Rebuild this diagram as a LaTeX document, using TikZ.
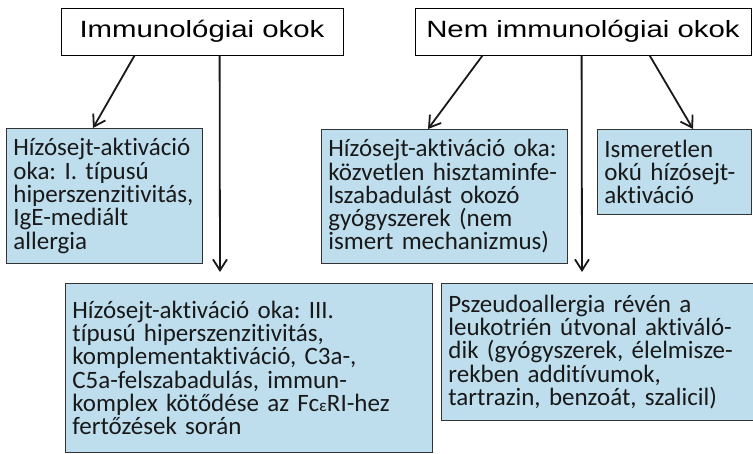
\documentclass[tikz,border=0pt]{standalone}
\usepackage{fontspec}
\setmainfont{Carlito}[Ligatures = NoCommon, WordSpace = 0.75]
\newfontfamily\titlefont{Liberation Sans}[FakeStretch = 1.25]
\usetikzlibrary{arrows.meta}
\definecolor{boxblue}{RGB}{190,222,238}
\frenchspacing

\begin{document}
\begin{tikzpicture}[x = 1pt, y = -1pt, > = {Straight Barb[length = 11pt, width = 14pt]},
	head/.style = {draw, line width = 0.8pt, minimum height = 47pt, inner sep = 0pt, font = \titlefont\fontsize{23.5}{28}\selectfont},
	cause/.style = {draw = black!80, fill = boxblue, line width = 0.8pt, anchor = north west, align = left, inner xsep = 7pt, inner ysep = 0pt, text = black!90, font = \fontsize{25}{23.3}\selectfont},
	link/.style = {->, line width = 1.8pt, draw = black!90}]

\useasboundingbox (0, 0) rectangle (753, 453);

% Headings

\node [head, minimum width = 282pt] (immun) at (202, 31.5) {Immunológiai okok};
\node [head, minimum width = 336pt] (nonimmun) at (583, 31.5) {Nem immunológiai okok};

% Causes

\node [cause, text width = 182pt, minimum height = 135pt] (typeone) at (6, 128) {Hízósejt-aktiváció\\oka: I. típusú\\hiperszenzitivitás,\\IgE-mediált\\allergia};
\node [cause, text width = 353pt, minimum height = 169pt] (typethree) at (65, 283) {Hízósejt-aktiváció oka: III.\\típusú hiperszenzitivitás,\\komplementaktiváció, C3a-,\\C5a-felszabadulás, immun-\\komplex kötődése az Fc{\fontsize{17}{17}\selectfont ε}RI-hez\\fertőzések során};
\node [cause, text width = 232pt, minimum height = 134pt] (direct) at (321, 129) {Hízósejt-aktiváció oka:\\közvetlen hisztaminfe-\\lszabadulást okozó\\gyógyszerek (nem\\ismert mechanizmus)};
\node [cause, text width = 140pt, minimum height = 85pt] (unknown) at (597, 129) {Ismeretlen\\okú hízósejt-\\aktiváció};
\node [cause, text width = 300pt, minimum height = 137pt] (pseudo) at (441, 283) {Pszeudoallergia révén a\\leukotrién útvonal aktiváló-\\dik (gyógyszerek, élelmisze-\\rekben additívumok,\\tartrazin, benzoát, szalicil)};

% Arrows

\draw [link] ([xshift = 74pt] immun.south west) -- ([xshift = 87pt] typeone.north west);
\draw [link] ([xshift = 159pt] immun.south west) -- ([xshift = 155pt, yshift = 11pt] typethree.north west);
\draw [link] ([xshift = 68pt] nonimmun.south west) -- ([xshift = 107pt] direct.north west);
\draw [link] ([xshift = 167pt] nonimmun.south west) -- ([xshift = 141pt, yshift = 11pt] pseudo.north west);
\draw [link] ([xshift = 235pt] nonimmun.south west) -- ([xshift = 96pt] unknown.north west);

\end{tikzpicture}
\end{document}
